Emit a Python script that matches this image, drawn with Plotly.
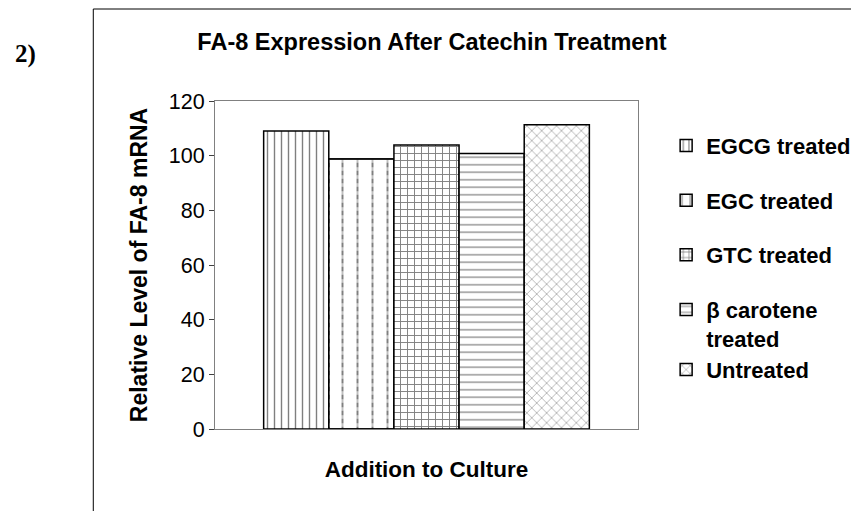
import plotly.graph_objects as go

# values
culture = ["Addition to Culture"]
treatments = ["EGCG treated", "EGC treated", "GTC treated", "β carotene<br>treated", "Untreated"]
levels = [109.0, 98.8, 103.9, 100.8, 111.3]
# legend groups: the last two entries sit closer together in the reference
groups = ["g0", "g1", "g2", "g3", "g3"]

# fill pattern per treatment: (shape, size, solidity)
patterns = [("|", 7, 0.2), ("|", 15, 0.13), ("+", 7, 0.25), ("-", 7.5, 0.16), ("x", 7, 0.15)]

FONT = "Liberation Sans, Arial, sans-serif"
# the page body adds an 8px margin, so the figure is laid out 8px up/left
OFF = 8

fig = go.Figure()
for i, (name, val) in enumerate(zip(treatments, levels)):
    shape, size, solid = patterns[i]
    fig.add_trace(go.Bar(
        x=culture, y=[val], name=name, legendgroup=groups[i], offsetgroup=str(i),
        marker=dict(color="white", line=dict(color="black", width=1.5),
                    pattern=dict(shape=shape, size=size, solidity=solid,
                                 fgcolor="black", bgcolor="white", fillmode="overlay")),
    ))
    if i == 1:
        # white horizontal stripes break the vertical lines into dashes
        fig.add_trace(go.Bar(
            x=culture, y=[val], name=name, legendgroup=groups[i], offsetgroup=str(i),
            showlegend=False, hoverinfo="skip",
            marker=dict(color="rgba(0,0,0,0)", line=dict(color="black", width=1.5),
                        pattern=dict(shape="-", size=8, solidity=0.45,
                                     fgcolor="white", bgcolor="rgba(0,0,0,0)", fillmode="overlay")),
        ))

fig.update_layout(
    width=859, height=511,
    margin=dict(l=215 - OFF, r=859 - 639 + OFF, t=101 - OFF, b=511 - 429 + OFF),
    paper_bgcolor="white", plot_bgcolor="white",
    barmode="group", bargap=0.23, bargroupgap=0,
    font=dict(family=FONT, color="black", size=21),
    title=dict(text="<b>FA-8 Expression After Catechin Treatment</b>",
               x=(432 - OFF) / 859, xanchor="center", y=1 - (42 - OFF) / 511, yanchor="middle",
               font=dict(size=23.5)),
    showlegend=True,
    legend=dict(x=1.064, xanchor="left", y=0.522, yanchor="middle",
                font=dict(size=22, weight="bold"), tracegroupgap=23, valign="top",
                bgcolor="rgba(0,0,0,0)", itemclick=False),
)
fig.update_yaxes(range=[0, 120], dtick=20, showgrid=False, zeroline=False,
                 showline=True, linecolor="#808080", linewidth=1, mirror=True,
                 ticks="outside", ticklen=5, tickcolor="#404040",
                 tickfont=dict(size=21.5),
                 title=dict(text="<b>Relative Level of FA-8 mRNA</b>", font=dict(size=23), standoff=14))
fig.update_xaxes(showticklabels=False, showgrid=False, zeroline=False,
                 showline=True, linecolor="#808080", linewidth=1, mirror=True, ticks="",
                 title=dict(text="<b>Addition to Culture</b>", font=dict(size=22.5), standoff=32))

# outer frame round the chart and the panel label
fig.add_shape(type="rect", xref="paper", yref="paper",
              x0=(93 - 215) / 424, x1=(854 - 215) / 424,
              y0=(429 - 530) / 328, y1=(429 - 9) / 328,
              line=dict(color="black", width=1), layer="below")
fig.add_annotation(text="<b>2)</b>", xref="paper", yref="paper",
                   x=(25 - 215) / 424, y=(429 - 54) / 328, showarrow=False,
                   xanchor="center", yanchor="middle",
                   font=dict(family="Liberation Serif, Times New Roman, serif", size=25))

fig.write_html("out.html")
